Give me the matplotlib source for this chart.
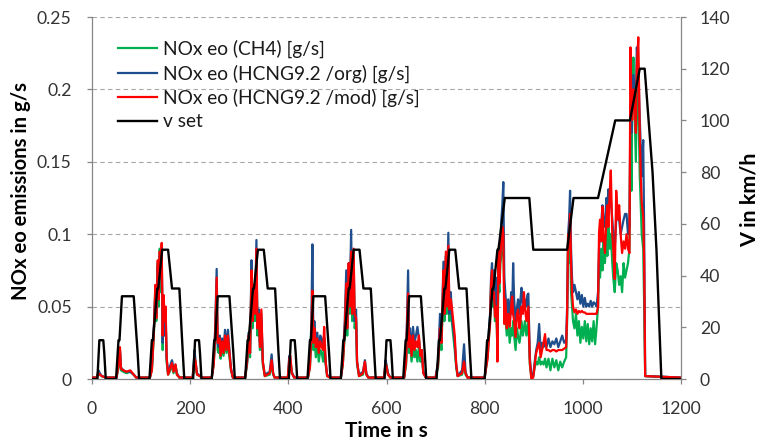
import matplotlib
matplotlib.use('Agg')
import matplotlib.pyplot as plt
from matplotlib.ticker import FixedLocator, FixedFormatter

plt.rcParams['font.family'] = ['Lato', 'DejaVu Sans']

# ---------------- data ----------------
# NOx time stamps [s]
t_nox = [
    0, 10, 13, 16, 20, 28, 50, 54, 57, 59, 64, 70, 78, 85, 90,
    118, 122, 126, 129, 131, 134, 136, 138, 140, 142, 144, 146, 148, 150, 152, 155, 160, 163, 166, 170, 173, 178,
    195, 205, 209, 211, 214, 220, 224,
    244, 248, 251, 254, 256, 258, 260, 262, 265, 268, 271, 274, 277, 280, 283, 287,
    312, 316, 319, 322, 325, 327, 330, 332, 335, 337, 340, 342, 345, 348, 352,
    362, 366, 369, 372,
    390, 399, 402, 404, 407, 412,
    440, 444, 447, 449, 451, 453, 456, 459, 462, 465, 468, 471, 473, 476, 479, 485,
    507, 511, 515, 518, 520, 523, 525, 528, 530, 533, 535, 538, 540, 544,
    552, 556, 559, 563,
    585, 595, 598, 600, 603, 608,
    636, 640, 642, 644, 646, 648, 651, 654, 657, 660, 663, 666, 669, 672, 675, 680,
    700, 705, 709, 712, 716, 718, 721, 723, 726, 728, 731, 733, 736, 739, 742, 745,
    754, 758, 761, 765,
    800, 803, 806, 809, 811, 813, 815, 817, 819, 821, 823, 825, 826, 828, 830, 832, 834, 836, 838, 840,
    842, 845, 848, 851, 854, 856, 858, 860, 863, 866, 868, 871, 873, 875, 878, 880, 882, 885, 887, 889, 892, 895, 899,
    902, 905, 908, 911, 914, 917, 920, 923, 926, 930, 934, 938, 942, 946, 950, 954, 958, 962, 966,
    968, 970, 972, 974, 976, 978, 980, 983, 986, 989, 992, 995, 998, 1001, 1004, 1007, 1010, 1013, 1016, 1019, 1022, 1025, 1028,
    1031, 1033, 1035, 1038, 1040, 1042, 1045, 1048, 1050, 1052, 1055, 1057, 1060, 1062, 1065, 1068, 1071, 1074, 1077, 1080, 1083, 1086, 1089, 1092, 1095,
    1097, 1099, 1101, 1103, 1106, 1108, 1110, 1113, 1116, 1118, 1120, 1123, 1125, 1127, 1200,
]

# NOx eo (CH4) [g/s]
nox_ch4 = [
    .001, .001, .004, .003, .002, .001, .001, .008, .018, .006, .005, .004, .005, .003, .001,
    .001, .006, .030, .062, .040, .080, .050, .090, .060, .085, .020, .055, .035, .045, .012, .003, .006, .012, .004, .009, .003, .001,
    .001, .001, .010, .008, .003, .002, .001,
    .001, .010, .030, .060, .020, .018, .025, .014, .022, .016, .025, .018, .024, .015, .006, .001,
    .001, .010, .028, .015, .070, .035, .060, .040, .088, .030, .045, .020, .040, .010, .002,
    .003, .010, .003, .001,
    .001, .001, .010, .012, .004, .001,
    .001, .008, .030, .045, .020, .028, .015, .025, .012, .020, .018, .012, .025, .010, .002, .001,
    .001, .010, .030, .060, .030, .075, .045, .090, .040, .080, .035, .040, .010, .002,
    .003, .009, .003, .001,
    .001, .001, .006, .008, .003, .001,
    .001, .010, .030, .050, .018, .025, .012, .022, .015, .020, .012, .022, .012, .016, .004, .001,
    .001, .008, .030, .020, .070, .040, .080, .045, .090, .040, .050, .040, .030, .020, .008, .002,
    .003, .010, .003, .001,
    .001, .008, .015, .030, .040, .060, .070, .050, .065, .040, .055, .030, .020, .070, .060, .080, .085, .090, .095, .060,
    .045, .030, .040, .025, .035, .030, .040, .030, .020, .035, .030, .025, .030, .040, .030, .035, .040, .030, .035, .040, .010, .002, .002,
    .008, .012, .010, .015, .010, .012, .010, .014, .008, .014, .006, .014, .008, .013, .006, .012, .008, .012, .015,
    .040, .090, .080, .100, .060, .050, .040, .035, .045, .030, .040, .025, .036, .028, .040, .026, .038, .024, .035, .026, .040, .024, .036,
    .050, .080, .070, .090, .075, .095, .080, .100, .085, .110, .090, .100, .080, .070, .060, .080, .075, .065, .071, .060, .080, .070, .075, .080, .090,
    .180, .130, .200, .222, .180, .150, .200, .190, .140, .120, .100, .090, .050, .002, .001,
]

# NOx eo (HCNG9.2 /org) [g/s]
nox_org = [
    .001, .001, .006, .004, .002, .001, .001, .012, .020, .008, .006, .005, .005, .003, .001,
    .001, .008, .035, .060, .045, .078, .055, .085, .070, .088, .025, .050, .030, .042, .015, .004, .010, .013, .006, .010, .004, .001,
    .001, .001, .020, .012, .004, .002, .001,
    .001, .012, .035, .076, .025, .022, .030, .018, .028, .020, .034, .022, .034, .020, .008, .001,
    .001, .012, .032, .018, .082, .040, .062, .045, .096, .035, .048, .025, .045, .012, .003,
    .005, .017, .004, .001,
    .001, .001, .016, .014, .005, .001,
    .001, .010, .040, .093, .030, .040, .025, .032, .020, .030, .028, .020, .028, .012, .003, .001,
    .001, .014, .040, .075, .035, .080, .050, .103, .045, .085, .040, .048, .012, .003,
    .005, .013, .004, .001,
    .001, .001, .013, .010, .004, .001,
    .001, .015, .045, .075, .025, .035, .018, .036, .025, .030, .036, .028, .018, .020, .005, .001,
    .001, .012, .045, .025, .081, .045, .085, .055, .101, .045, .060, .045, .035, .025, .010, .002,
    .006, .024, .005, .001,
    .001, .010, .020, .035, .045, .070, .080, .055, .075, .048, .070, .045, .030, .085, .075, .095, .110, .120, .136, .070,
    .060, .045, .055, .040, .060, .045, .080, .055, .040, .050, .055, .045, .055, .063, .050, .055, .055, .050, .058, .059, .015, .003, .003,
    .012, .020, .025, .038, .020, .025, .022, .025, .022, .028, .022, .026, .024, .028, .022, .026, .030, .025, .027,
    .050, .100, .110, .130, .090, .070, .060, .065, .060, .055, .060, .052, .058, .050, .056, .050, .052, .050, .054, .050, .053, .052, .050,
    .060, .090, .100, .110, .120, .110, .105, .125, .115, .131, .120, .125, .110, .100, .090, .110, .120, .110, .100, .105, .110, .114, .114, .100, .105,
    .190, .170, .200, .210, .200, .190, .229, .215, .180, .160, .140, .165, .100, .002, .001,
]

# NOx eo (HCNG9.2 /mod) [g/s]
nox_mod = [
    .001, .001, .004, .003, .002, .001, .001, .010, .022, .007, .006, .005, .006, .003, .001,
    .001, .006, .032, .065, .042, .082, .055, .088, .072, .094, .030, .058, .040, .050, .015, .003, .008, .011, .005, .010, .003, .001,
    .001, .001, .014, .012, .003, .002, .001,
    .001, .010, .032, .070, .025, .025, .028, .016, .026, .018, .030, .020, .030, .018, .007, .001,
    .001, .012, .030, .018, .075, .040, .065, .045, .090, .035, .045, .022, .048, .012, .002,
    .004, .013, .004, .001,
    .001, .001, .014, .016, .004, .001,
    .001, .008, .034, .061, .025, .035, .022, .028, .018, .026, .022, .020, .036, .012, .002, .001,
    .001, .010, .035, .066, .035, .080, .050, .088, .045, .090, .045, .042, .012, .002,
    .004, .012, .003, .001,
    .001, .001, .010, .009, .003, .001,
    .001, .012, .040, .059, .022, .030, .016, .030, .020, .026, .022, .030, .016, .020, .004, .001,
    .001, .010, .035, .025, .075, .045, .088, .050, .092, .048, .055, .050, .040, .030, .010, .002,
    .004, .012, .004, .001,
    .001, .008, .014, .030, .038, .065, .075, .057, .060, .043, .050, .035, .012, .089, .066, .085, .096, .105, .100, .038,
    .055, .035, .045, .036, .050, .057, .045, .040, .029, .045, .048, .035, .040, .050, .045, .060, .050, .040, .045, .050, .012, .000, .001,
    .010, .018, .022, .025, .015, .020, .025, .031, .020, .020, .019, .020, .020, .019, .020, .020, .020, .021, .022,
    .045, .100, .090, .114, .080, .060, .050, .046, .048, .045, .047, .046, .047, .046, .046, .045, .045, .045, .045, .045, .045, .045, .045,
    .050, .101, .110, .095, .119, .100, .087, .110, .120, .105, .130, .144, .100, .090, .069, .130, .110, .120, .100, .087, .095, .090, .100, .090, .087,
    .229, .180, .179, .200, .190, .170, .215, .236, .167, .140, .122, .112, .080, .002, .001,
]

# v set: breakpoints of the driving cycle (time [s], speed [km/h])
t_v = [
    0, 11, 15, 23, 25, 28, 49, 54, 56, 61, 85, 93, 96, 117, 122, 124, 133, 135, 143, 155, 163, 176, 178, 185, 188,
    195, 206, 210, 218, 220, 223, 244, 249, 251, 256, 280, 288, 291, 312, 317, 319, 328, 330, 338, 350, 358, 371, 373, 380, 383,
    390, 401, 405, 413, 415, 418, 439, 444, 446, 451, 475, 483, 486, 507, 512, 514, 523, 525, 533, 545, 553, 566, 568, 575, 578,
    585, 596, 600, 608, 610, 613, 634, 639, 641, 646, 670, 678, 681, 702, 707, 709, 718, 720, 728, 740, 748, 761, 763, 770, 773,
    780, 800, 805, 807, 816, 818, 826, 828, 841, 891, 899, 968, 981, 1031, 1066, 1096, 1116, 1126, 1142, 1150, 1160, 1200,
]
v_set = [
    0, 0, 15, 15, 10, 0, 0, 15, 15, 32, 32, 10, 0, 0, 15, 15, 35, 35, 50, 50, 35, 35, 35, 10, 0,
    0, 0, 15, 15, 10, 0, 0, 15, 15, 32, 32, 10, 0, 0, 15, 15, 35, 35, 50, 50, 35, 35, 35, 10, 0,
    0, 0, 15, 15, 10, 0, 0, 15, 15, 32, 32, 10, 0, 0, 15, 15, 35, 35, 50, 50, 35, 35, 35, 10, 0,
    0, 0, 15, 15, 10, 0, 0, 15, 15, 32, 32, 10, 0, 0, 15, 15, 35, 35, 50, 50, 35, 35, 35, 10, 0,
    0, 0, 15, 15, 35, 35, 50, 50, 70, 70, 50, 50, 70, 70, 100, 100, 120, 120, 80, 50, 0, 0,
]

labels = ['NOx eo (CH4) [g/s]', 'NOx eo (HCNG9.2 /org) [g/s]',
          'NOx eo (HCNG9.2 /mod) [g/s]', 'v set']
x_ticks = [0, 200, 400, 600, 800, 1000, 1200]
y_ticks = [0, 0.05, 0.1, 0.15, 0.2, 0.25]
y_tick_labels = ['0', '0.05', '0.1', '0.15', '0.2', '0.25']
v_ticks = [0, 20, 40, 60, 80, 100, 120, 140]

# ---------------- plot ----------------
W, H = 761, 441
PX = 72.0 / 100  # points per pixel
fig = plt.figure(figsize=(W / 100, H / 100), dpi=100)
ax = fig.add_axes([92 / W, 62 / H, 589 / W, 362 / H])
ax2 = ax.twinx()

c_green = '#00B050'
c_blue = '#1F4E8C'
c_red = '#FF0000'
lw = 1.6

l1, = ax.plot(t_nox, nox_ch4, color=c_green, lw=lw, label=labels[0], zorder=3)
l2, = ax.plot(t_nox, nox_org, color=c_blue, lw=lw, label=labels[1], zorder=4)
l3, = ax.plot(t_nox, nox_mod, color=c_red, lw=lw, label=labels[2], zorder=5)
l4, = ax2.plot(t_v, v_set, color='black', lw=1.7, label=labels[3])

ax.set_xlim(0, 1200)
ax.set_ylim(0, 0.25)
ax2.set_ylim(0, 140)

gray = '#868686'
txt_col = '#333333'
ax.xaxis.set_major_locator(FixedLocator(x_ticks))
ax.yaxis.set_major_locator(FixedLocator(y_ticks))
ax.yaxis.set_major_formatter(FixedFormatter(y_tick_labels))
ax2.yaxis.set_major_locator(FixedLocator(v_ticks))

ax.yaxis.grid(True, linestyle=(0, (4, 3)), color='#A6A6A6', lw=0.8)
ax.set_axisbelow(True)

tick_fs = 12.7
for a in (ax, ax2):
    a.spines['top'].set_visible(False)
    for s in ('left', 'right', 'bottom'):
        a.spines[s].set_color(gray)
        a.spines[s].set_linewidth(0.9)
    a.tick_params(axis='both', direction='out', length=3.6, width=0.9, color=gray,
                  labelsize=tick_fs, labelcolor=txt_col)
ax.spines['right'].set_visible(False)
ax2.spines['left'].set_visible(False)
ax2.spines['bottom'].set_visible(False)
ax.tick_params(axis='y', pad=11)
ax2.tick_params(axis='y', pad=10)
ax.tick_params(axis='x', pad=12)

# axis labels
xl = ax.set_xlabel('Time in s', fontsize=14, fontweight='bold', color='black')
yl = ax.set_ylabel('NOx eo emissions in g/s', fontsize=14, fontweight='bold', color='black')
ax2.yaxis.set_label_position('right')
vl = ax2.set_ylabel('V in km/h', fontsize=14, fontweight='bold', color='black')

fig.canvas.draw()
r = fig.canvas.get_renderer()


def fit(txt, target, vertical=False):
    bb = txt.get_window_extent(r)
    cur = bb.height if vertical else bb.width
    txt.set_fontsize(txt.get_fontsize() * target / cur)


fit(xl, 83)
fit(yl, 218, vertical=True)
fit(vl, 95, vertical=True)

for lab in (xl, yl, vl):
    lab.set_rotation_mode('anchor')
    lab.set_verticalalignment('baseline')
    lab.set_horizontalalignment('center')
ax.xaxis.set_label_coords(0.5, (379 - 437) / 362)
ax.yaxis.set_label_coords((27 - 92) / 589, (379 - 191) / 362)
ax2.yaxis.set_label_coords((756 - 92) / 589, (379 - 200) / 362)

# legend: size fitted so that the longest entry spans like the reference
leg_fs = 12.5
ls = 0.3
anchor_y = 1 - 37 / H


def make_legend(fs, ls, ay):
    fs_px = fs / PX
    return ax2.legend([l1, l2, l3, l4], labels, loc='upper left',
                      bbox_to_anchor=(118 / W, ay), bbox_transform=fig.transFigure,
                      frameon=False, fontsize=fs, labelcolor='#1a1a1a',
                      handlelength=39 / fs_px, handletextpad=6 / fs_px,
                      labelspacing=ls, borderaxespad=0, borderpad=0)


leg = make_legend(leg_fs, ls, anchor_y)
fig.canvas.draw()
w = leg.get_texts()[2].get_window_extent(r).width
leg_fs = leg_fs * 258 / w
for _ in range(3):
    leg.remove()
    leg = make_legend(leg_fs, ls, anchor_y)
    fig.canvas.draw()
    tx = leg.get_texts()
    c0 = (tx[0].get_window_extent(r).y0 + tx[0].get_window_extent(r).y1) / 2
    c2 = (tx[2].get_window_extent(r).y0 + tx[2].get_window_extent(r).y1) / 2
    pitch = (c0 - c2) / 2
    ls += (24.5 - pitch) / (leg_fs / PX)
    anchor_y += ((H - 49) - c0) / H

leg.remove()
leg = make_legend(leg_fs, ls, anchor_y)

fig.savefig('out.png', dpi=100)
